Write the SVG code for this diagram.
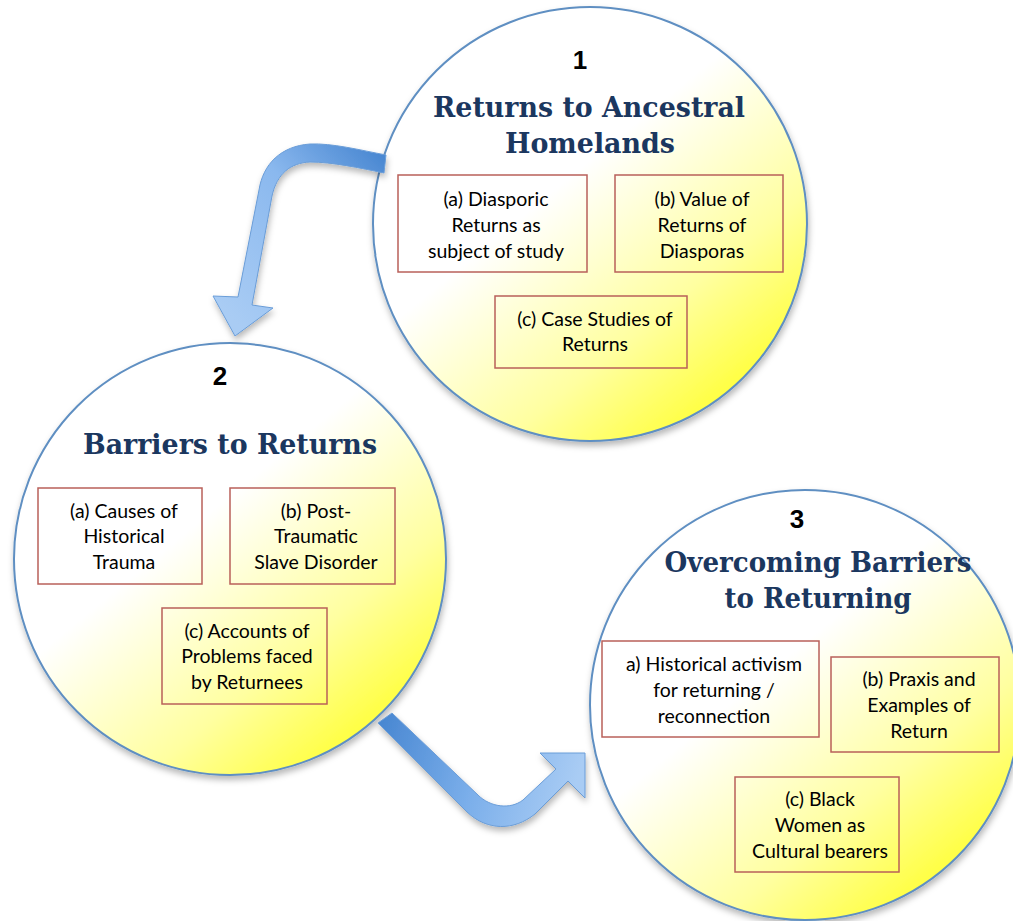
<svg xmlns="http://www.w3.org/2000/svg" width="1013" height="921" viewBox="0 0 1013 921">
<defs>
<linearGradient id="sun" x1="0.15" y1="0.1" x2="0.85" y2="0.95">
<stop offset="0" stop-color="#ffffff"/>
<stop offset="0.38" stop-color="#ffffff"/>
<stop offset="0.72" stop-color="#ffffa0"/>
<stop offset="1" stop-color="#ffff28"/>
</linearGradient>
<linearGradient id="arr1" gradientUnits="userSpaceOnUse" x1="225" y1="310" x2="385" y2="160">
<stop offset="0" stop-color="#a9ccf4"/>
<stop offset="0.6" stop-color="#8ab8ee"/>
<stop offset="1" stop-color="#4a88d2"/>
</linearGradient>
<linearGradient id="arr2" gradientUnits="userSpaceOnUse" x1="385" y1="715" x2="580" y2="770">
<stop offset="0" stop-color="#4a88d2"/>
<stop offset="0.5" stop-color="#7aaeea"/>
<stop offset="1" stop-color="#a9ccf4"/>
</linearGradient>
<filter id="shadow" x="-10%" y="-10%" width="125%" height="125%">
<feDropShadow dx="1" dy="4" stdDeviation="3" flood-color="#000000" flood-opacity="0.28"/>
</filter>
</defs>
<style>
.circle { fill: url(#sun); stroke: #5f8fc2; stroke-width: 2; filter: url(#shadow); }
.box { fill: none; stroke: #b9605a; stroke-width: 1.5; }
.num { font-family: "Liberation Sans", Arial, sans-serif; font-weight: bold; font-size: 26px; fill: #000; text-anchor: middle; }
.title { font-family: "DejaVu Serif", "Liberation Serif", serif; font-weight: bold; font-size: 27px; fill: #1b375f; text-anchor: middle; }
.lbl { font-family: Lato, "Open Sans", "Liberation Sans", sans-serif; font-size: 19.5px; fill: #000; text-anchor: middle; }
.arrow { stroke: #6a9dd8; stroke-width: 1; filter: url(#shadow); }
</style>
<rect width="1013" height="921" fill="#ffffff"/>

<g id="node1">
<circle class="circle" cx="590" cy="224" r="217"/>
<text class="num" x="580" y="69">1</text>
<text class="title" x="589" y="117" textLength="312" lengthAdjust="spacingAndGlyphs">Returns to Ancestral</text>
<text class="title" x="590" y="153" textLength="170" lengthAdjust="spacingAndGlyphs">Homelands</text>
<rect class="box" x="398" y="175" width="189" height="97"/>
<text class="lbl" x="496" y="206">(a) Diasporic</text>
<text class="lbl" x="496" y="232">Returns as</text>
<text class="lbl" x="496" y="258">subject of study</text>
<rect class="box" x="615" y="175" width="168" height="97"/>
<text class="lbl" x="702" y="206">(b) Value of</text>
<text class="lbl" x="702" y="232">Returns of</text>
<text class="lbl" x="702" y="258">Diasporas</text>
<rect class="box" x="495" y="296" width="192" height="72"/>
<text class="lbl" x="595" y="326">(c) Case Studies of</text>
<text class="lbl" x="595" y="351">Returns</text>
</g>

<g id="node2">
<circle class="circle" cx="230" cy="559" r="216"/>
<text class="num" x="220" y="385">2</text>
<text class="title" x="230" y="454" textLength="294" lengthAdjust="spacingAndGlyphs">Barriers to Returns</text>
<rect class="box" x="38" y="488" width="164" height="96"/>
<text class="lbl" x="124" y="518">(a) Causes of</text>
<text class="lbl" x="124" y="543">Historical</text>
<text class="lbl" x="124" y="569">Trauma</text>
<rect class="box" x="230" y="488" width="165" height="96"/>
<text class="lbl" x="316" y="518">(b) Post-</text>
<text class="lbl" x="316" y="543">Traumatic</text>
<text class="lbl" x="316" y="569">Slave Disorder</text>
<rect class="box" x="162" y="608" width="165" height="96"/>
<text class="lbl" x="247" y="638">(c) Accounts of</text>
<text class="lbl" x="247" y="663">Problems faced</text>
<text class="lbl" x="247" y="689">by Returnees</text>
</g>

<g id="node3">
<circle class="circle" cx="805" cy="705" r="215"/>
<text class="num" x="797" y="528">3</text>
<text class="title" x="818" y="572" textLength="307" lengthAdjust="spacingAndGlyphs">Overcoming Barriers</text>
<text class="title" x="818" y="608" textLength="187" lengthAdjust="spacingAndGlyphs">to Returning</text>
<rect class="box" x="602" y="641" width="217" height="96"/>
<text class="lbl" x="714" y="671">a) Historical activism</text>
<text class="lbl" x="714" y="697">for returning /</text>
<text class="lbl" x="714" y="723">reconnection</text>
<rect class="box" x="831" y="657" width="168" height="95"/>
<text class="lbl" x="919" y="686">(b) Praxis and</text>
<text class="lbl" x="919" y="712">Examples of</text>
<text class="lbl" x="919" y="738">Return</text>
<rect class="box" x="735" y="777" width="164" height="95"/>
<text class="lbl" x="820" y="806">(c) Black</text>
<text class="lbl" x="820" y="832">Women as</text>
<text class="lbl" x="820" y="858">Cultural bearers</text>
</g>

<g id="connectors">
<path class="arrow" fill="url(#arr1)" d="M 386,155 C 360,150 332,143 310,144 C 281,146 263,164 259,190 L 238,297 L 213,296 L 235,336 L 273,308 L 252,305 L 272,196 C 277,174 290,163 310,162 C 332,162 360,168 384,173 Z"/>
<path class="arrow" fill="url(#arr2)" d="M 392,713 L 478,795 C 490,807 510,810 523,800 L 556,769 L 540,753 L 585,753 L 585,798 L 568,781 L 535,814 C 514,831 487,831 467,812 L 378,723 Z"/>
</g>
</svg>
